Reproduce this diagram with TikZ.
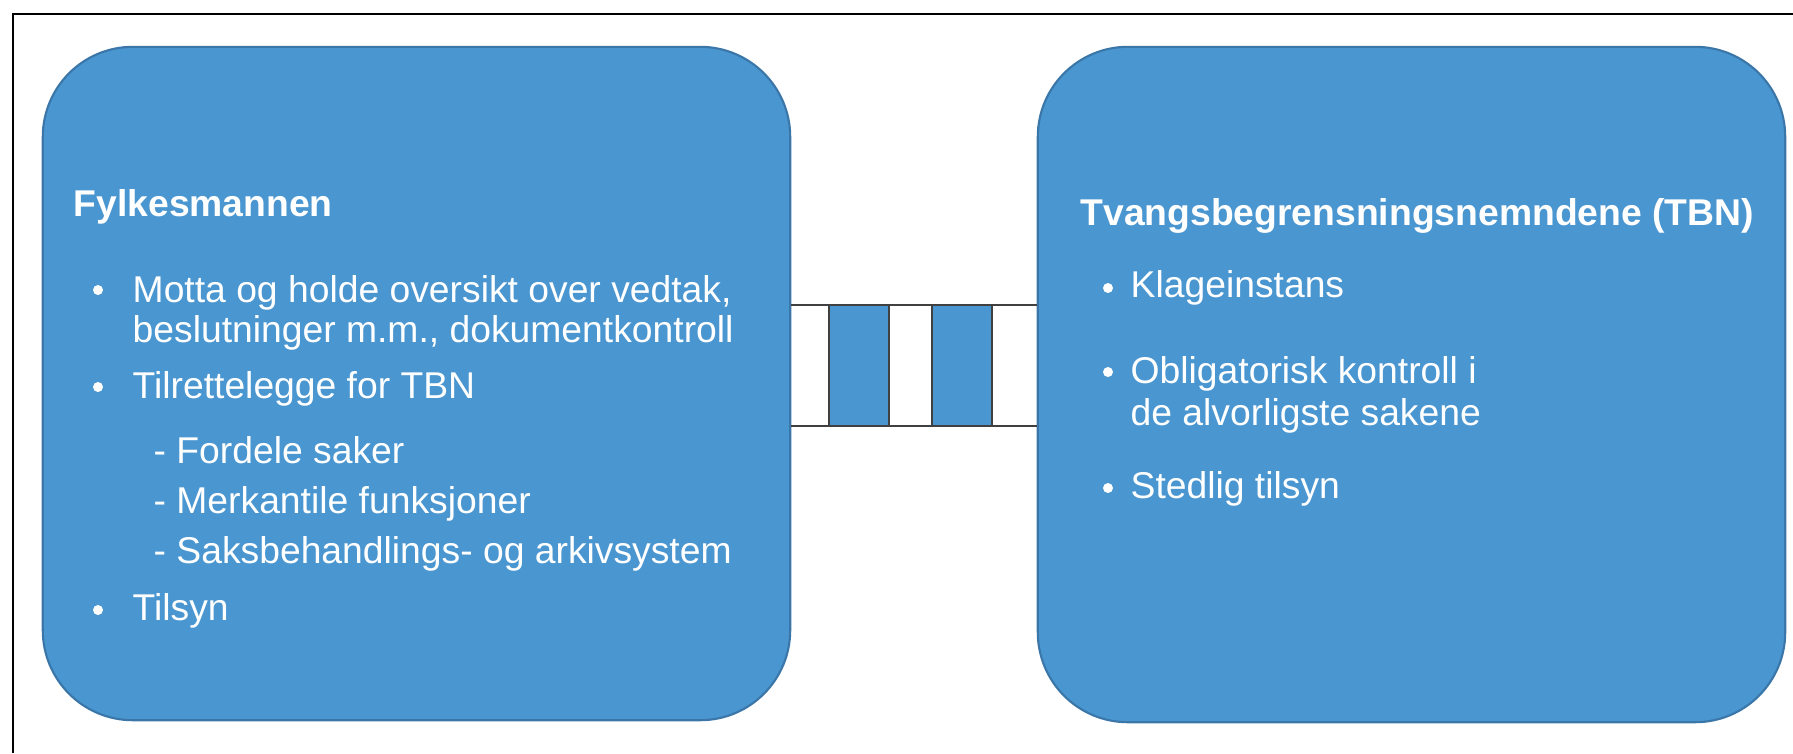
\documentclass[tikz,border=0pt]{standalone}
\usepackage{fontspec}
\setmainfont{Liberation Sans}
\usetikzlibrary{positioning}

\definecolor{boksblaa}{RGB}{74,150,208}
\definecolor{kantblaa}{RGB}{58,118,168}
\definecolor{strek}{RGB}{64,64,64}

\tikzset{
  boks/.style={draw=kantblaa, line width=0.6pt, fill=boksblaa,
    rounded corners=0.9cm, inner sep=0pt, minimum width=7.47cm},
  tekst/.style={text=white, anchor=base west, inner sep=0pt,
    font=\fontsize{10.6pt}{12pt}\selectfont},
  tittel/.style={tekst, font=\bfseries\fontsize{10.6pt}{12pt}\selectfont},
  prikk/.style={circle, fill=white, inner sep=0pt, minimum size=0.1cm},
  bro/.style={draw=strek, line width=0.6pt}
}

\begin{document}
\begin{tikzpicture}[x=0.01cm, y=-0.01cm]

  \useasboundingbox (0,0) rectangle (1793,753);

  % Ramme (bare topp og venstre side synlig)
  \draw[line width=0.6pt] (13,753) -- (13,14) -- (1793,14);

  % De to boksene
  \node[boks, minimum height=6.73cm] (fylke) at (416.5,383.5) {};
  \node[boks, minimum height=6.75cm] (tbn)   at (1411.5,384.5) {};

  % Broen mellom boksene
  \coordinate (bru topp) at (914,305);
  \coordinate (bru bunn) at (914,426);
  \foreach \xa/\xb in {829/889, 932/992}
    \filldraw[fill=boksblaa, draw=strek, line width=0.6pt] (\xa,305) rectangle (\xb,426);
  \draw[bro] (fylke.east |- bru topp) -- (tbn.west |- bru topp);
  \draw[bro] (fylke.east |- bru bunn) -- (tbn.west |- bru bunn);

  % Fylkesmannen
  \node[tittel] (fylke tittel) at (73,216) {Fylkesmannen};
  \foreach \y/\txt [count=\i] in {302/{Motta og holde oversikt over vedtak,},
      342/{beslutninger m.m., dokumentkontroll},
      398/{Tilrettelegge for TBN},
      620/{Tilsyn}}
    \node[tekst] (fylke punkt\i) at (132,\y) {\txt};
  \foreach \y/\txt [count=\i] in {463/{Fordele saker},
      513/{Merkantile funksjoner},
      563/{Saksbehandlings- og arkivsystem}}
    \node[tekst] (fylke under\i) at (153,\y) {- \txt};
  \foreach \y [count=\i] in {290, 387, 610}
    \node[prikk] (fylke prikk\i) at (98,\y) {};

  % Tvangsbegrensningsnemndene
  \node[tittel] (tbn tittel) at (1080,225) {Tvangsbegrensningsnemndene (TBN)};
  \foreach \y/\txt [count=\i] in {297/{Klageinstans},
      383/{Obligatorisk kontroll i},
      425/{de alvorligste sakene},
      498/{Stedlig tilsyn}}
    \node[tekst] (tbn punkt\i) at (1130,\y) {\txt};
  \foreach \y [count=\i] in {288, 372, 488}
    \node[prikk] (tbn prikk\i) at (1108,\y) {};

\end{tikzpicture}
\end{document}
